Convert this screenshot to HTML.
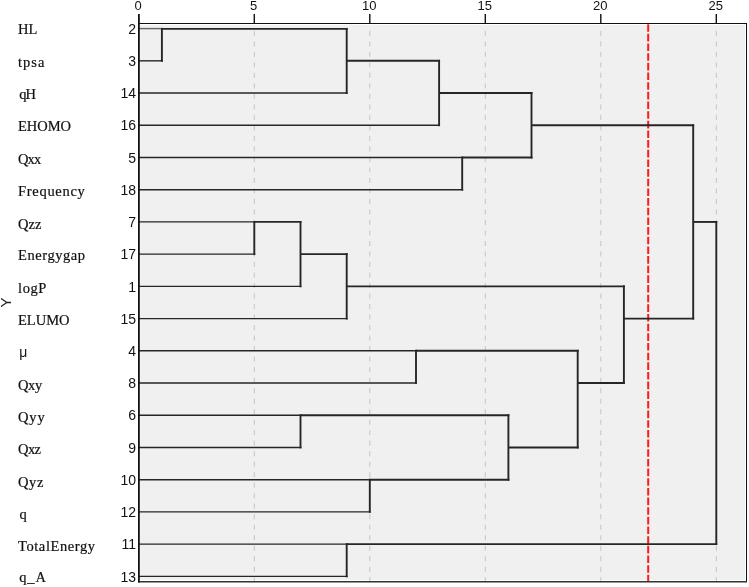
<!DOCTYPE html>
<html><head><meta charset="utf-8"><style>
html,body{margin:0;padding:0;background:#fff;}
svg{display:block;will-change:transform;}
.lab{font-family:"Liberation Serif",serif;font-size:14.5px;fill:#111;stroke:#111;stroke-width:0.2px;}
.num{font-family:"Liberation Sans",sans-serif;font-size:14px;fill:#111;text-anchor:end;}
.tk{font-family:"Liberation Sans",sans-serif;font-size:13px;fill:#111;text-anchor:middle;}
</style></head><body>
<svg width="749" height="587" viewBox="0 0 749 587">
<rect x="138" y="23" width="609" height="559" fill="#ffffff"/>
<rect x="140" y="25" width="605" height="555" fill="#f0f0f0"/>
<g stroke="#c4c4c4" stroke-width="1" stroke-dasharray="5 5.51">
<line x1="254.30" y1="30.8" x2="254.30" y2="581"/>
<line x1="369.80" y1="30.8" x2="369.80" y2="581"/>
<line x1="485.30" y1="30.8" x2="485.30" y2="581"/>
<line x1="600.80" y1="30.8" x2="600.80" y2="581"/>
<line x1="716.30" y1="30.8" x2="716.30" y2="581"/>
</g>
<line x1="648.20" y1="24.2" x2="648.20" y2="581" stroke="#ff1a1a" stroke-width="2" stroke-dasharray="7.6 2.06"/>
<g stroke="#262626" stroke-width="1.9" stroke-linecap="butt">
<line x1="138.80" y1="28.60" x2="162.85" y2="28.60" stroke="#666" stroke-width="1.4"/>
<line x1="138.80" y1="60.82" x2="162.85" y2="60.82" stroke="#262626" stroke-width="1.4"/>
<line x1="138.80" y1="93.04" x2="347.65" y2="93.04" stroke="#262626" stroke-width="1.4"/>
<line x1="138.80" y1="125.26" x2="440.05" y2="125.26" stroke="#262626" stroke-width="1.4"/>
<line x1="138.80" y1="157.48" x2="463.15" y2="157.48" stroke="#262626" stroke-width="1.4"/>
<line x1="138.80" y1="189.70" x2="463.15" y2="189.70" stroke="#262626" stroke-width="1.4"/>
<line x1="138.80" y1="221.92" x2="255.25" y2="221.92" stroke="#262626" stroke-width="1.4"/>
<line x1="138.80" y1="254.14" x2="255.25" y2="254.14" stroke="#262626" stroke-width="1.4"/>
<line x1="138.80" y1="286.36" x2="301.45" y2="286.36" stroke="#262626" stroke-width="1.4"/>
<line x1="138.80" y1="318.58" x2="347.65" y2="318.58" stroke="#262626" stroke-width="1.4"/>
<line x1="138.80" y1="350.80" x2="416.95" y2="350.80" stroke="#262626" stroke-width="1.4"/>
<line x1="138.80" y1="383.02" x2="416.95" y2="383.02" stroke="#262626" stroke-width="1.4"/>
<line x1="138.80" y1="415.24" x2="301.45" y2="415.24" stroke="#262626" stroke-width="1.4"/>
<line x1="138.80" y1="447.46" x2="301.45" y2="447.46" stroke="#262626" stroke-width="1.4"/>
<line x1="138.80" y1="479.68" x2="370.75" y2="479.68" stroke="#262626" stroke-width="1.4"/>
<line x1="138.80" y1="511.90" x2="370.75" y2="511.90" stroke="#262626" stroke-width="1.4"/>
<line x1="138.80" y1="544.12" x2="347.65" y2="544.12" stroke="#262626" stroke-width="1.4"/>
<line x1="138.80" y1="576.34" x2="347.65" y2="576.34" stroke="#262626" stroke-width="1.4"/>
<line x1="161.90" y1="27.95" x2="161.90" y2="61.77"/>
<line x1="161.90" y1="28.90" x2="347.65" y2="28.90"/>
<line x1="346.70" y1="27.95" x2="346.70" y2="93.99"/>
<line x1="346.70" y1="60.82" x2="440.05" y2="60.82"/>
<line x1="439.10" y1="59.87" x2="439.10" y2="126.21"/>
<line x1="439.10" y1="93.04" x2="532.45" y2="93.04"/>
<line x1="462.20" y1="156.53" x2="462.20" y2="190.65"/>
<line x1="462.20" y1="157.48" x2="532.45" y2="157.48"/>
<line x1="531.50" y1="92.09" x2="531.50" y2="158.43"/>
<line x1="531.50" y1="125.26" x2="694.15" y2="125.26"/>
<line x1="254.30" y1="220.97" x2="254.30" y2="255.09"/>
<line x1="254.30" y1="221.92" x2="301.45" y2="221.92"/>
<line x1="300.50" y1="220.97" x2="300.50" y2="287.31"/>
<line x1="300.50" y1="254.14" x2="347.65" y2="254.14"/>
<line x1="346.70" y1="253.19" x2="346.70" y2="319.53"/>
<line x1="346.70" y1="286.36" x2="624.85" y2="286.36"/>
<line x1="416.00" y1="349.85" x2="416.00" y2="383.97"/>
<line x1="416.00" y1="350.80" x2="578.65" y2="350.80"/>
<line x1="300.50" y1="414.29" x2="300.50" y2="448.41"/>
<line x1="300.50" y1="415.24" x2="509.35" y2="415.24"/>
<line x1="369.80" y1="478.73" x2="369.80" y2="512.85"/>
<line x1="369.80" y1="479.68" x2="509.35" y2="479.68"/>
<line x1="508.40" y1="414.29" x2="508.40" y2="480.63"/>
<line x1="508.40" y1="447.46" x2="578.65" y2="447.46"/>
<line x1="577.70" y1="349.85" x2="577.70" y2="448.41"/>
<line x1="577.70" y1="383.02" x2="624.85" y2="383.02"/>
<line x1="623.90" y1="285.41" x2="623.90" y2="383.97"/>
<line x1="623.90" y1="318.58" x2="694.15" y2="318.58"/>
<line x1="693.20" y1="124.31" x2="693.20" y2="319.53"/>
<line x1="693.20" y1="221.92" x2="717.25" y2="221.92"/>
<line x1="346.70" y1="543.17" x2="346.70" y2="577.29"/>
<line x1="346.70" y1="544.12" x2="717.25" y2="544.12"/>
<line x1="716.30" y1="220.97" x2="716.30" y2="545.07"/>
</g>
<g stroke="#111" stroke-width="1">
<line x1="138" y1="23.5" x2="747" y2="23.5"/>
<line x1="746.5" y1="23" x2="746.5" y2="582"/>
</g>
<line x1="138" y1="581.7" x2="747" y2="581.7" stroke="#333" stroke-width="1.4"/>
<line x1="138.9" y1="14" x2="138.9" y2="582.4" stroke="#111" stroke-width="1.8"/>
<g stroke="#111" stroke-width="1.4">
<line x1="254.30" y1="14" x2="254.30" y2="23.5"/>
<line x1="369.80" y1="14" x2="369.80" y2="23.5"/>
<line x1="485.30" y1="14" x2="485.30" y2="23.5"/>
<line x1="600.80" y1="14" x2="600.80" y2="23.5"/>
<line x1="716.30" y1="14" x2="716.30" y2="23.5"/>
</g>
<g class="tk">
<text x="138.20" y="10">0</text>
<text x="253.70" y="10">5</text>
<text x="369.20" y="10">10</text>
<text x="484.70" y="10">15</text>
<text x="600.20" y="10">20</text>
<text x="715.70" y="10">25</text>
</g>
<g class="lab">
<text x="18" y="33.85">HL</text>
<text x="18" y="66.89" letter-spacing="1.03">tpsa</text>
<text x="19.2" y="98.53" letter-spacing="-1.0">qH</text>
<text x="18" y="131.37" letter-spacing="-0.02">EHOMO</text>
<text x="18" y="164.01" letter-spacing="-0.9">Qxx</text>
<text x="18" y="195.55" letter-spacing="0.7">Frequency</text>
<text x="18" y="228.59" letter-spacing="0.05">Qzz</text>
<text x="18" y="260.23" letter-spacing="0.57">Energygap</text>
<text x="18" y="292.57" letter-spacing="0.6">logP</text>
<text x="18" y="324.51" letter-spacing="-0.02">ELUMO</text>
<text x="19.3" y="357.25" style="font-family:&quot;Liberation Sans&quot;,sans-serif;font-size:14px;stroke-width:0">μ</text>
<text x="18" y="389.59" letter-spacing="-0.35">Qxy</text>
<text x="18" y="421.93" letter-spacing="0.9">Qyy</text>
<text x="18" y="454.27" letter-spacing="-0.55">Qxz</text>
<text x="18" y="486.61" letter-spacing="0.6">Qyz</text>
<text x="19.5" y="518.95">q</text>
<text x="18" y="551.29" letter-spacing="0.58">TotalEnergy</text>
<text x="19.2" y="582.43" letter-spacing="0.9">q_A</text>
</g>
<g class="num">
<text x="136" y="33.80">2</text>
<text x="136" y="66.02">3</text>
<text x="136" y="98.24">14</text>
<text x="136" y="130.46">16</text>
<text x="136" y="162.68">5</text>
<text x="136" y="194.90">18</text>
<text x="136" y="227.12">7</text>
<text x="136" y="259.34">17</text>
<text x="136" y="291.56">1</text>
<text x="136" y="323.78">15</text>
<text x="136" y="356.00">4</text>
<text x="136" y="388.22">8</text>
<text x="136" y="420.44">6</text>
<text x="136" y="452.66">9</text>
<text x="136" y="484.88">10</text>
<text x="136" y="517.10">12</text>
<text x="136" y="549.32">11</text>
<text x="136" y="581.54">13</text>
</g>
<text transform="translate(11.2,302.6) rotate(-90)" text-anchor="middle" style="font-family:'Liberation Sans',sans-serif;font-size:15px;fill:#222">Y</text>
</svg>
</body></html>
